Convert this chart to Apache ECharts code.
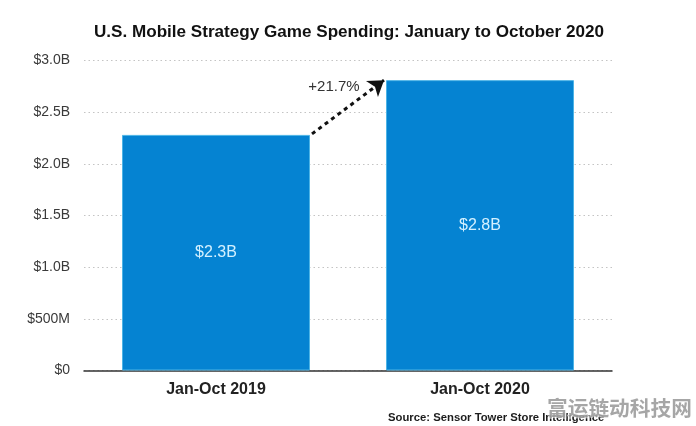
<!DOCTYPE html>
<html>
<head>
	<meta charset="utf-8">
	<title>U.S. Mobile Strategy Game Spending</title>
	<style type="text/css">
		html,body{margin:0;padding:0;background:#fff;}
		#main{width:696px;height:426px;}
	</style>
</head>
<body>
	<div id="main"></div>
	<script src="https://cdn.jsdelivr.net/npm/echarts@6/dist/echarts.min.js"></script>
	<script type="text/javascript">
		var categories = ['Jan-Oct 2019', 'Jan-Oct 2020'];
		var spending = [2.28, 2.81];
		var barLabels = ['$2.3B', '$2.8B'];
		var tickLabels = ['$0', '$500M', '$1.0B', '$1.5B', '$2.0B', '$2.5B', '$3.0B'];
		var growthLabel = '+21.7%';
		var barWidth = 188;
		var font = '"Liberation Sans", Arial, sans-serif';

		var chart = echarts.init(document.getElementById('main'), null, {renderer: 'canvas'});
		chart.setOption({
			backgroundColor: '#fff',
			animation: false,
			textStyle: {fontFamily: font},
			title: [{
				text: 'U.S. Mobile Strategy Game Spending: January to October 2020',
				left: 344, top: 19, textAlign: 'center',
				textStyle: {fontSize: 17.1, fontWeight: 'bold', color: '#111', fontFamily: font}
			}, {
				text: 'Source: Sensor Tower Store Intelligence',
				left: 383, top: 407,
				textStyle: {fontSize: 11.3, fontWeight: 'bold', color: '#1c1c1c', fontFamily: font}
			}],
			grid: {left: 84, right: 84, top: 60.5, height: 310},
			xAxis: {
				type: 'category',
				data: categories,
				axisTick: {show: false},
				axisLine: {lineStyle: {color: '#333', width: 1.5}},
				axisLabel: {fontSize: 16, fontWeight: 'bold', color: '#222', margin: 11, fontFamily: font}
			},
			yAxis: {
				type: 'value',
				min: 0, max: 3, interval: 0.5,
				axisLine: {show: false},
				axisTick: {show: false},
				axisLabel: {
					fontSize: 14, color: '#3a3a3a', margin: 14, fontFamily: font,
					formatter: function(v){ return tickLabels[Math.round(v / 0.5)]; }
				},
				splitLine: {lineStyle: {color: '#c4c4c4', type: [1.5, 3], width: 1.2}}
			},
			series: [{
				type: 'bar',
				data: spending,
				barWidth: barWidth,
				itemStyle: {color: '#0583d2', borderColor: '#4db4e6', borderWidth: 1},
				label: {
					show: true, position: 'inside', fontSize: 16, color: '#d4f1ff', fontFamily: font,
					formatter: function(p){ return barLabels[p.dataIndex]; }
				}
			}],
			graphic: [{
				type: 'text', left: 546, top: 397, z: 100,
				style: {text: '富运链动科技网', fontSize: 20.7, fontWeight: 'bold', fill: 'rgba(150,150,150,0.85)',
					fontFamily: '"Noto Sans CJK SC"', stroke: 'rgba(255,255,255,0.6)', lineWidth: 2}
			}]
		});

		// arrow runs from the corner of one bar to the corner of the next, so take it from the scales
		var p1 = chart.convertToPixel({seriesIndex: 0}, [0, spending[0]]);
		var p2 = chart.convertToPixel({seriesIndex: 0}, [1, spending[1]]);
		chart.setOption({
			series: [{
				markLine: {
					silent: true,
					symbol: ['none', 'arrow'],
					symbolSize: 15,
					label: {show: false},
					lineStyle: {color: '#111', type: [4, 4], width: 3},
					data: [[
						{x: p1[0] + barWidth / 2 + 2, y: p1[1] - 1},
						{x: p2[0] - barWidth / 2 - 2, y: p2[1]}
					]]
				},
				markPoint: {
					silent: true,
					symbol: 'circle',
					symbolSize: 0,
					label: {show: true, position: 'inside', formatter: growthLabel, fontSize: 15, color: '#333', fontFamily: font},
					data: [{x: p2[0] - barWidth / 2 - 52, y: p2[1] + 7}]
				}
			}]
		});
	</script>
</body>
</html>
